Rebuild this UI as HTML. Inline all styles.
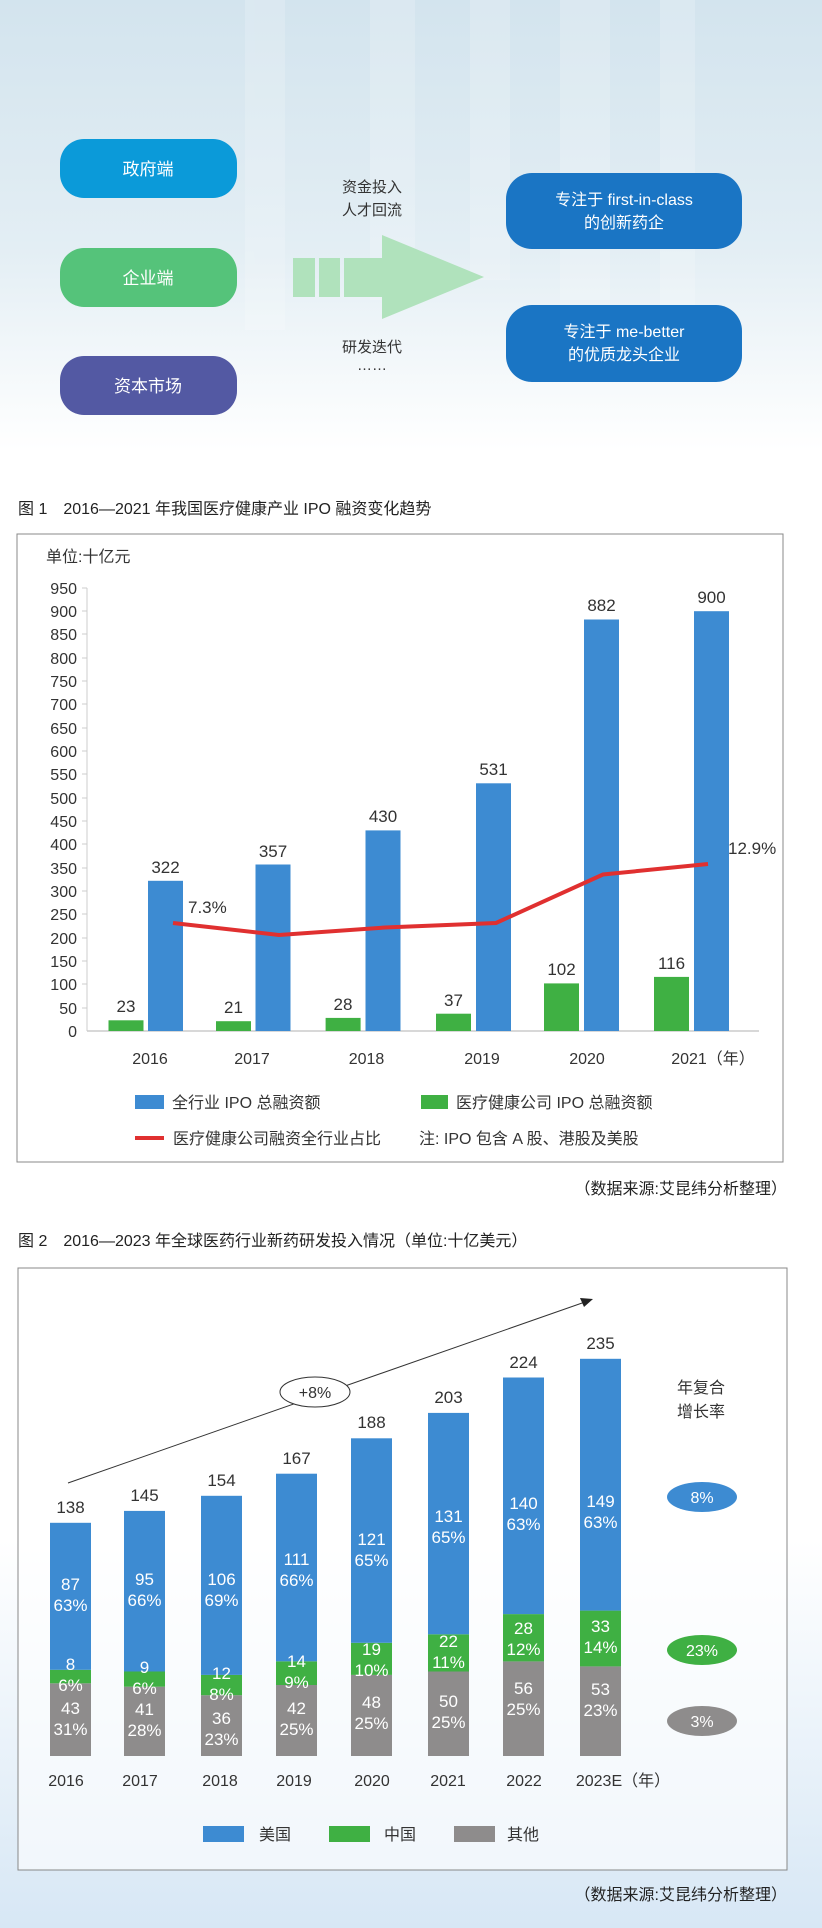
<!DOCTYPE html>
<html><head><meta charset="utf-8"><style>
html,body{margin:0;padding:0;background:#fff}
svg{display:block}
text{font-family:"Liberation Sans","Noto Sans CJK SC",sans-serif}
</style></head><body>
<svg width="822" height="1928" viewBox="0 0 822 1928" xmlns="http://www.w3.org/2000/svg">
<defs>
<linearGradient id="topbg" x1="0" y1="0" x2="0" y2="1">
<stop offset="0" stop-color="#d3e4ee"/><stop offset="0.55" stop-color="#e3eef4"/><stop offset="1" stop-color="#ffffff"/>
</linearGradient>
<linearGradient id="botbg" x1="0" y1="0" x2="0" y2="1">
<stop offset="0" stop-color="#ffffff"/><stop offset="1" stop-color="#d7e7f5"/>
</linearGradient>
</defs>
<rect x="0" y="0" width="822" height="450" fill="url(#topbg)"/>
<g fill="#ffffff" opacity="0.18">
<rect x="245" y="0" width="40" height="330"/><rect x="370" y="0" width="45" height="300"/>
<rect x="470" y="0" width="40" height="280"/><rect x="560" y="0" width="50" height="300"/>
<rect x="660" y="0" width="35" height="320"/>
</g>
<rect x="0" y="1540" width="822" height="388" fill="url(#botbg)"/>

<!-- Top diagram -->
<rect x="60" y="139" width="177" height="59" rx="24" fill="#0b9ad9"/>
<text x="148" y="175" font-size="17" fill="#fff" text-anchor="middle">政府端</text>
<rect x="60" y="248" width="177" height="59" rx="24" fill="#55c37a"/>
<text x="148" y="284" font-size="17" fill="#fff" text-anchor="middle">企业端</text>
<rect x="60" y="356" width="177" height="59" rx="24" fill="#5359a3"/>
<text x="148" y="392" font-size="17" fill="#fff" text-anchor="middle">资本市场</text>

<rect x="293" y="258" width="22" height="39" fill="#b0e2bc"/>
<rect x="319" y="258" width="21" height="39" fill="#b0e2bc"/>
<polygon points="344,258 382,258 382,235 484,277 382,319 382,297 344,297" fill="#b0e2bc"/>
<text x="372" y="192" font-size="15" fill="#333" text-anchor="middle">资金投入</text>
<text x="372" y="215" font-size="15" fill="#333" text-anchor="middle">人才回流</text>
<text x="372" y="352" font-size="15" fill="#333" text-anchor="middle">研发迭代</text>
<text x="372" y="370" font-size="15" fill="#333" text-anchor="middle">……</text>

<rect x="506" y="173" width="236" height="76" rx="26" fill="#1a75c4"/>
<text x="624" y="205" font-size="16" fill="#fff" text-anchor="middle">专注于 first-in-class</text>
<text x="624" y="228" font-size="16" fill="#fff" text-anchor="middle">的创新药企</text>
<rect x="506" y="305" width="236" height="77" rx="26" fill="#1a75c4"/>
<text x="624" y="337" font-size="16" fill="#fff" text-anchor="middle">专注于 me-better</text>
<text x="624" y="360" font-size="16" fill="#fff" text-anchor="middle">的优质龙头企业</text>

<!-- Chart 1 -->
<text x="18" y="514" font-size="16" fill="#222">图 1　2016—2021 年我国医疗健康产业 IPO 融资变化趋势</text>
<rect x="17" y="534" width="766" height="628" fill="#fff" stroke="#888" stroke-width="1"/>
<text x="46" y="562" font-size="16" fill="#333">单位:十亿元</text>
<line x1="87" y1="588" x2="87" y2="1031" stroke="#ccc"/>
<line x1="87" y1="1031" x2="759" y2="1031" stroke="#ccc" stroke-width="1.5"/>
<g font-size="16" fill="#333" text-anchor="end">
<text x="77" y="1037">0</text><text x="77" y="1014">50</text><text x="77" y="990">100</text>
<text x="77" y="967">150</text><text x="77" y="944">200</text><text x="77" y="920">250</text>
<text x="77" y="897">300</text><text x="77" y="874">350</text><text x="77" y="850">400</text>
<text x="77" y="827">450</text><text x="77" y="804">500</text><text x="77" y="780">550</text>
<text x="77" y="757">600</text><text x="77" y="734">650</text><text x="77" y="710">700</text>
<text x="77" y="687">750</text><text x="77" y="664">800</text><text x="77" y="640">850</text>
<text x="77" y="617">900</text><text x="77" y="594">950</text>
</g>
<g stroke="#ccc"><line x1="82" y1="1008" x2="87" y2="1008"/><line x1="82" y1="984" x2="87" y2="984"/><line x1="82" y1="961" x2="87" y2="961"/><line x1="82" y1="938" x2="87" y2="938"/><line x1="82" y1="914" x2="87" y2="914"/><line x1="82" y1="891" x2="87" y2="891"/><line x1="82" y1="868" x2="87" y2="868"/><line x1="82" y1="844" x2="87" y2="844"/><line x1="82" y1="821" x2="87" y2="821"/><line x1="82" y1="798" x2="87" y2="798"/><line x1="82" y1="774" x2="87" y2="774"/><line x1="82" y1="751" x2="87" y2="751"/><line x1="82" y1="728" x2="87" y2="728"/><line x1="82" y1="704" x2="87" y2="704"/><line x1="82" y1="681" x2="87" y2="681"/><line x1="82" y1="658" x2="87" y2="658"/><line x1="82" y1="634" x2="87" y2="634"/><line x1="82" y1="611" x2="87" y2="611"/><line x1="82" y1="588" x2="87" y2="588"/></g>
<g fill="#3fb043">
<rect x="108.5" y="1020.3" width="35" height="10.7"/><rect x="216" y="1021.2" width="35" height="9.8"/>
<rect x="325.6" y="1017.9" width="35" height="13.1"/><rect x="436" y="1013.7" width="35" height="17.3"/>
<rect x="544" y="983.4" width="35" height="47.6"/><rect x="654" y="976.9" width="35" height="54.1"/>
</g>
<g fill="#3d8bd2">
<rect x="148" y="880.8" width="35" height="150.2"/><rect x="255.5" y="864.5" width="35" height="166.5"/>
<rect x="365.5" y="830.4" width="35" height="200.6"/><rect x="476" y="783.3" width="35" height="247.7"/>
<rect x="584" y="619.5" width="35" height="411.5"/><rect x="694" y="611.2" width="35" height="419.8"/>
</g>
<g font-size="17" fill="#333" text-anchor="middle">
<text x="126" y="1012">23</text><text x="233.5" y="1013">21</text><text x="343" y="1010">28</text>
<text x="453.5" y="1006">37</text><text x="561.5" y="975">102</text><text x="671.5" y="969">116</text>
<text x="165.5" y="873">322</text><text x="273" y="857">357</text><text x="383" y="822">430</text>
<text x="493.5" y="775">531</text><text x="601.5" y="611">882</text><text x="711.5" y="603">900</text>
</g>
<polyline points="173,923 279,935 385,927.5 496,923 603,874.5 708,864" fill="none" stroke="#e03030" stroke-width="4"/>
<text x="188" y="913" font-size="17" fill="#333">7.3%</text>
<text x="728" y="854" font-size="17" fill="#333">12.9%</text>
<g font-size="16" fill="#333" text-anchor="middle">
<text x="150" y="1064">2016</text><text x="252" y="1064">2017</text><text x="366.5" y="1064">2018</text>
<text x="482" y="1064">2019</text><text x="587" y="1064">2020</text><text x="713" y="1064">2021（年）</text>
</g>
<rect x="135" y="1095" width="29" height="14" fill="#3d8bd2"/>
<text x="172" y="1108" font-size="16" fill="#333">全行业 IPO 总融资额</text>
<rect x="421" y="1095" width="27" height="14" fill="#3fb043"/>
<text x="456" y="1108" font-size="16" fill="#333">医疗健康公司 IPO 总融资额</text>
<rect x="135" y="1136" width="29" height="4" fill="#e03030"/>
<text x="173" y="1144" font-size="16" fill="#333">医疗健康公司融资全行业占比</text>
<text x="419" y="1144" font-size="16" fill="#333">注: IPO 包含 A 股、港股及美股</text>
<text x="787" y="1194" font-size="16" fill="#222" text-anchor="end">（数据来源:艾昆纬分析整理）</text>

<!-- Chart 2 -->
<text x="18" y="1246" font-size="16" fill="#222">图 2　2016—2023 年全球医药行业新药研发投入情况（单位:十亿美元）</text>
<rect x="18" y="1268" width="769" height="602" fill="#fff" fill-opacity="0.6" stroke="#888" stroke-width="1"/>
<line x1="68" y1="1483" x2="585" y2="1302" stroke="#333" stroke-width="1"/>
<polygon points="593,1299 580,1298 584,1307" fill="#222"/>
<ellipse cx="315" cy="1392" rx="35" ry="15" fill="#fff" stroke="#333"/>
<text x="315" y="1398" font-size="16" fill="#333" text-anchor="middle">+8%</text>

<g fill="#8e8c8c">
<rect x="50" y="1683.3" width="41" height="72.7"/><rect x="124" y="1686.7" width="41" height="69.3"/>
<rect x="201" y="1695.2" width="41" height="60.8"/><rect x="276" y="1685" width="41" height="71"/>
<rect x="351" y="1674.9" width="41" height="81.1"/><rect x="428" y="1671.5" width="41" height="84.5"/>
<rect x="503" y="1661.4" width="41" height="94.6"/><rect x="580" y="1666.4" width="41" height="89.6"/>
</g>
<g fill="#3fb043">
<rect x="50" y="1669.8" width="41" height="13.5"/><rect x="124" y="1671.5" width="41" height="15.2"/>
<rect x="201" y="1674.9" width="41" height="20.3"/><rect x="276" y="1661.3" width="41" height="23.7"/>
<rect x="351" y="1642.8" width="41" height="32.1"/><rect x="428" y="1634.3" width="41" height="37.2"/>
<rect x="503" y="1614.1" width="41" height="47.3"/><rect x="580" y="1610.6" width="41" height="55.8"/>
</g>
<g fill="#3d8bd2">
<rect x="50" y="1522.8" width="41" height="147"/><rect x="124" y="1510.9" width="41" height="160.6"/>
<rect x="201" y="1495.8" width="41" height="179.1"/><rect x="276" y="1473.7" width="41" height="187.6"/>
<rect x="351" y="1438.3" width="41" height="204.5"/><rect x="428" y="1412.9" width="41" height="221.4"/>
<rect x="503" y="1377.5" width="41" height="236.6"/><rect x="580" y="1358.8" width="41" height="251.8"/>
</g>
<g font-size="17" fill="#333" text-anchor="middle">
<text x="70.5" y="1513">138</text><text x="144.5" y="1501">145</text><text x="221.5" y="1486">154</text>
<text x="296.5" y="1464">167</text><text x="371.5" y="1428">188</text><text x="448.5" y="1403">203</text>
<text x="523.5" y="1368">224</text><text x="600.5" y="1349">235</text>
</g>
<g font-size="17" fill="#fff" text-anchor="middle">
<text x="70.5" y="1590">87</text><text x="70.5" y="1611">63%</text>
<text x="70.5" y="1670">8</text><text x="70.5" y="1691">6%</text>
<text x="70.5" y="1714">43</text><text x="70.5" y="1735">31%</text>
<text x="144.5" y="1585">95</text><text x="144.5" y="1606">66%</text>
<text x="144.5" y="1673">9</text><text x="144.5" y="1694">6%</text>
<text x="144.5" y="1715">41</text><text x="144.5" y="1736">28%</text>
<text x="221.5" y="1585">106</text><text x="221.5" y="1606">69%</text>
<text x="221.5" y="1679">12</text><text x="221.5" y="1700">8%</text>
<text x="221.5" y="1724">36</text><text x="221.5" y="1745">23%</text>
<text x="296.5" y="1565">111</text><text x="296.5" y="1586">66%</text>
<text x="296.5" y="1667">14</text><text x="296.5" y="1688">9%</text>
<text x="296.5" y="1714">42</text><text x="296.5" y="1735">25%</text>
<text x="371.5" y="1545">121</text><text x="371.5" y="1566">65%</text>
<text x="371.5" y="1655">19</text><text x="371.5" y="1676">10%</text>
<text x="371.5" y="1708">48</text><text x="371.5" y="1729">25%</text>
<text x="448.5" y="1522">131</text><text x="448.5" y="1543">65%</text>
<text x="448.5" y="1647">22</text><text x="448.5" y="1668">11%</text>
<text x="448.5" y="1707">50</text><text x="448.5" y="1728">25%</text>
<text x="523.5" y="1509">140</text><text x="523.5" y="1530">63%</text>
<text x="523.5" y="1634">28</text><text x="523.5" y="1655">12%</text>
<text x="523.5" y="1694">56</text><text x="523.5" y="1715">25%</text>
<text x="600.5" y="1507">149</text><text x="600.5" y="1528">63%</text>
<text x="600.5" y="1632">33</text><text x="600.5" y="1653">14%</text>
<text x="600.5" y="1695">53</text><text x="600.5" y="1716">23%</text>
</g>
<g font-size="16" fill="#333" text-anchor="middle">
<text x="66" y="1786">2016</text><text x="140" y="1786">2017</text><text x="220" y="1786">2018</text>
<text x="294" y="1786">2019</text><text x="372" y="1786">2020</text><text x="448" y="1786">2021</text>
<text x="524" y="1786">2022</text><text x="623" y="1786">2023E（年）</text>
</g>
<text x="701" y="1393" font-size="16" fill="#333" text-anchor="middle">年复合</text>
<text x="701" y="1417" font-size="16" fill="#333" text-anchor="middle">增长率</text>
<ellipse cx="702" cy="1497" rx="35" ry="15" fill="#3d8bd2"/>
<text x="702" y="1503" font-size="16" fill="#fff" text-anchor="middle">8%</text>
<ellipse cx="702" cy="1650" rx="35" ry="15" fill="#3fb043"/>
<text x="702" y="1656" font-size="16" fill="#fff" text-anchor="middle">23%</text>
<ellipse cx="702" cy="1721" rx="35" ry="15" fill="#8e8c8c"/>
<text x="702" y="1727" font-size="16" fill="#fff" text-anchor="middle">3%</text>
<rect x="203" y="1826" width="41" height="16" fill="#3d8bd2"/>
<text x="259" y="1840" font-size="16" fill="#333">美国</text>
<rect x="329" y="1826" width="41" height="16" fill="#3fb043"/>
<text x="384" y="1840" font-size="16" fill="#333">中国</text>
<rect x="454" y="1826" width="41" height="16" fill="#8e8c8c"/>
<text x="507" y="1840" font-size="16" fill="#333">其他</text>
<text x="787" y="1900" font-size="16" fill="#222" text-anchor="end">（数据来源:艾昆纬分析整理）</text>
</svg>
</body></html>
